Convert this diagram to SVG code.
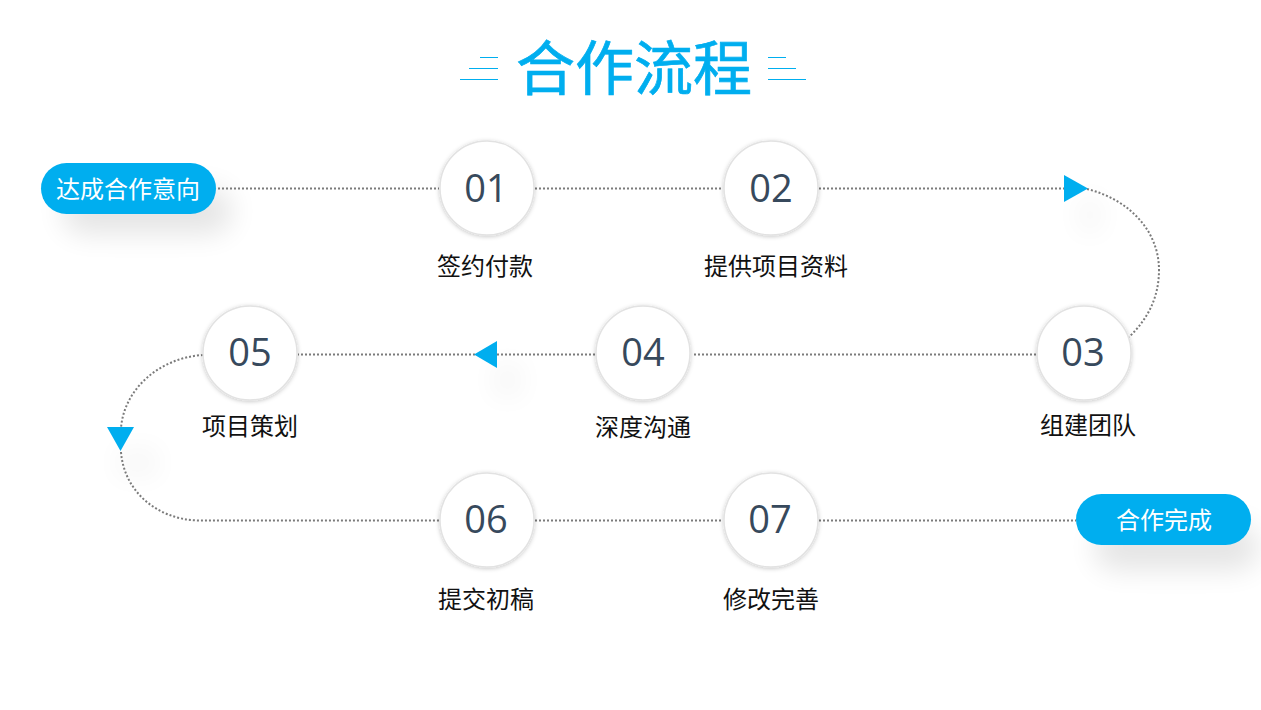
<svg xmlns="http://www.w3.org/2000/svg" width="1261" height="710" viewBox="0 0 1261 710">
<style>
text{font-family:"Noto Sans CJK SC","Noto Sans",sans-serif;text-anchor:middle}
.title{font-size:59px;fill:#00aeef;stroke:#00aeef;stroke-width:.7}
.pill{fill:#00aeef}
.pillt{font-size:24px;fill:#fff}
.num{font-size:38px;fill:#37495c;font-family:"Open Sans","Noto Sans",sans-serif}
.lab{font-size:24px;fill:#111}
.c{fill:#fff;stroke:#e2e2e2;stroke-width:1.5}
.dot{fill:none;stroke:#7b7b7b;stroke-width:2;stroke-dasharray:2 2}
.deco{stroke:#00aeef;stroke-width:1;fill:none}
.arrow{fill:#00aeef}
.shadow{fill:#000;opacity:.1}
.ashadow{fill:#000;opacity:.025}
</style>
<defs>
<filter id="blur" x="-50%" y="-100%" width="200%" height="300%"><feGaussianBlur stdDeviation="14"/></filter>
<filter id="blur2" x="-100%" y="-100%" width="300%" height="300%"><feGaussianBlur stdDeviation="12"/></filter>
<filter id="cs" x="-20%" y="-20%" width="140%" height="140%"><feDropShadow dx="0" dy="1" stdDeviation="2" flood-color="#000" flood-opacity=".22"/></filter>
</defs>
<rect width="1261" height="710" fill="#fff"/>
<g id="title">
<text class="title" x="634" y="90">合作流程</text>
<path class="deco" d="M480 57.500H498M469 68.500H498M460 79.500H498M768 57.500H786M768 68.500H796M768 79.500H806"/>
</g>
<g id="shadows">
<rect class="shadow" x="62" y="188" width="170" height="46" rx="23" filter="url(#blur)"/>
<rect class="shadow" x="1094" y="524" width="165" height="46" rx="23" filter="url(#blur)"/>
<path class="ashadow" d="M1075 195L1105 195L1105 235L1075 235Z" filter="url(#blur2)"/>
<path class="ashadow" d="M490 360L525 360L525 400L490 400Z" filter="url(#blur2)"/>
<path class="ashadow" d="M115 445L160 445L160 480L115 480Z" filter="url(#blur2)"/>
</g>
<g id="connectors">
<path class="dot" d="M218 188.500H439"/>
<path class="dot" d="M535 188.500H723"/>
<path class="dot" d="M819 188.500H1066"/>
<path class="dot" d="M1087 189C1128 199 1159 230 1159 270C1159 298 1147 320 1129 337"/>
<path class="dot" d="M1036 354.500H692"/>
<path class="dot" d="M595 354.500H497"/>
<path class="dot" d="M475 354.500H298"/>
<path class="dot" d="M203 355C158 358 124 390 121 428"/>
<path class="dot" d="M121 452C124 490 155 519 198 520.500H439"/>
<path class="dot" d="M535 520.500H723"/>
<path class="dot" d="M819 520.500H1076"/>
<path class="arrow" d="M1064 175L1088 188.500L1064 202Z"/>
<path class="arrow" d="M497 341L474 354.500L497 368Z"/>
<path class="arrow" d="M107 427H134L120.500 451Z"/>
</g>
<g id="start"><rect class="pill" x="41" y="163" width="175" height="51" rx="25.500"/><text class="pillt" x="128" y="198">达成合作意向</text></g>
<g id="n01"><circle class="c" cx="487" cy="188" r="47" filter="url(#cs)"/><text class="num" x="486" y="202">01</text><text class="lab" x="485" y="275">签约付款</text></g>
<g id="n02"><circle class="c" cx="771" cy="188" r="47" filter="url(#cs)"/><text class="num" x="771" y="202">02</text><text class="lab" x="776" y="275">提供项目资料</text></g>
<g id="n03"><circle class="c" cx="1084" cy="353" r="47" filter="url(#cs)"/><text class="num" x="1083" y="366">03</text><text class="lab" x="1088" y="434">组建团队</text></g>
<g id="n04"><circle class="c" cx="643" cy="353" r="47" filter="url(#cs)"/><text class="num" x="643" y="366">04</text><text class="lab" x="643" y="436">深度沟通</text></g>
<g id="n05"><circle class="c" cx="250" cy="353" r="47" filter="url(#cs)"/><text class="num" x="250" y="366">05</text><text class="lab" x="250" y="435">项目策划</text></g>
<g id="n06"><circle class="c" cx="487" cy="520" r="47" filter="url(#cs)"/><text class="num" x="486" y="533">06</text><text class="lab" x="486" y="608">提交初稿</text></g>
<g id="n07"><circle class="c" cx="771" cy="520" r="47" filter="url(#cs)"/><text class="num" x="770" y="533">07</text><text class="lab" x="771" y="608">修改完善</text></g>
<g id="end"><rect class="pill" x="1076" y="494" width="175" height="51" rx="25.500"/><text class="pillt" x="1164" y="529">合作完成</text></g>
</svg>
